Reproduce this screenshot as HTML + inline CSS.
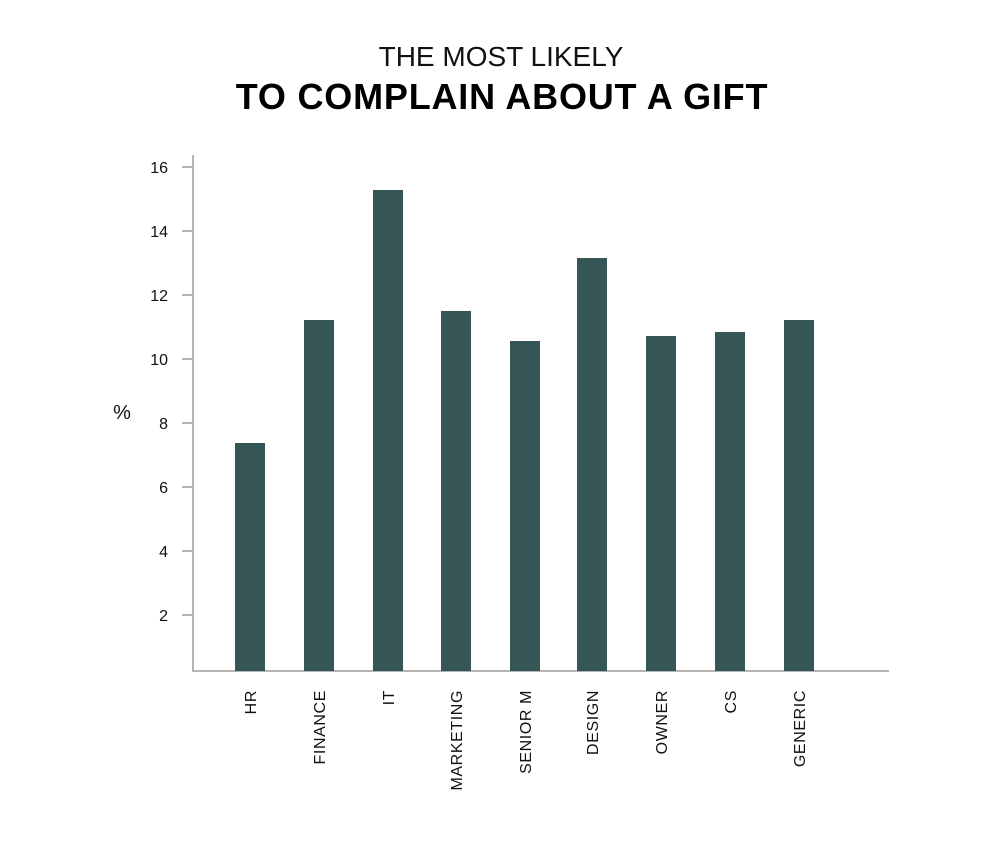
<!DOCTYPE html>
<html><head><style>
html,body{margin:0;padding:0;background:#fff;}
svg{display:block;}
text{font-family:"Liberation Sans",sans-serif;}
</style></head><body>
<svg width="1001" height="848" viewBox="0 0 1001 848">
<text x="501" y="66" text-anchor="middle" font-size="28" fill="#111">THE MOST LIKELY</text>
<text x="502" y="109" text-anchor="middle" font-size="36" font-weight="bold" fill="#000" letter-spacing="0.8">TO COMPLAIN ABOUT A GIFT</text>
<g stroke="#b5b5b5" stroke-width="2">
<line x1="193" y1="155" x2="193" y2="671"/>
<line x1="192" y1="671" x2="889" y2="671"/>
<line x1="182" y1="167" x2="193" y2="167"/>
<line x1="182" y1="231" x2="193" y2="231"/>
<line x1="182" y1="295" x2="193" y2="295"/>
<line x1="182" y1="359" x2="193" y2="359"/>
<line x1="182" y1="423" x2="193" y2="423"/>
<line x1="182" y1="487" x2="193" y2="487"/>
<line x1="182" y1="551" x2="193" y2="551"/>
<line x1="182" y1="615" x2="193" y2="615"/>
</g>
<g font-size="16" fill="#111" text-anchor="end">
<text x="168" y="173">16</text>
<text x="168" y="237">14</text>
<text x="168" y="301">12</text>
<text x="168" y="365">10</text>
<text x="168" y="429">8</text>
<text x="168" y="493">6</text>
<text x="168" y="557">4</text>
<text x="168" y="621">2</text>
</g>
<text x="122" y="419" text-anchor="middle" font-size="20" fill="#111">%</text>
<g fill="#365655">
<rect x="235" y="443" width="30" height="228"/>
<rect x="304" y="320" width="30" height="351"/>
<rect x="373" y="190" width="30" height="481"/>
<rect x="441" y="311" width="30" height="360"/>
<rect x="510" y="341" width="30" height="330"/>
<rect x="577" y="258" width="30" height="413"/>
<rect x="646" y="336" width="30" height="335"/>
<rect x="715" y="332" width="30" height="339"/>
<rect x="784" y="320" width="30" height="351"/>
</g>
<g font-size="16" fill="#111" text-anchor="end" letter-spacing="0.6">
<text transform="translate(256,690) rotate(-90)">HR</text>
<text transform="translate(325,690) rotate(-90)">FINANCE</text>
<text transform="translate(394,690) rotate(-90)">IT</text>
<text transform="translate(462,690) rotate(-90)">MARKETING</text>
<text transform="translate(531,690) rotate(-90)">SENIOR M</text>
<text transform="translate(598,690) rotate(-90)">DESIGN</text>
<text transform="translate(667,690) rotate(-90)">OWNER</text>
<text transform="translate(736,690) rotate(-90)">CS</text>
<text transform="translate(805,690) rotate(-90)">GENERIC</text>
</g>
</svg>
</body></html>
